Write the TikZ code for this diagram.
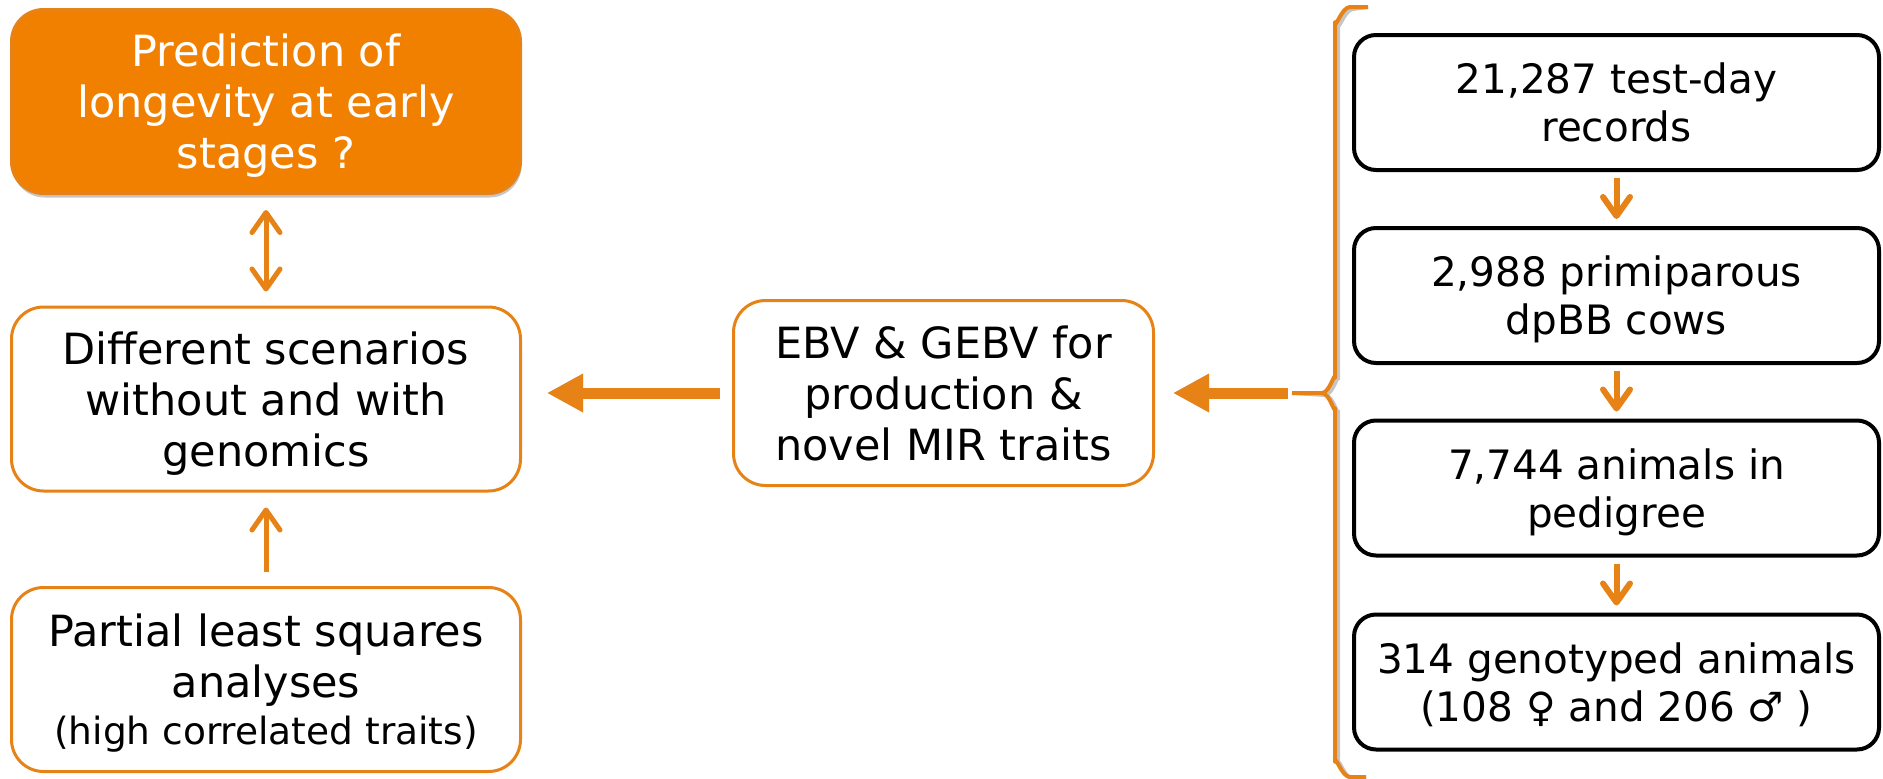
\documentclass[tikz,border=0pt]{standalone}
\usepackage{fontspec}
\setmainfont{DejaVu Sans}
\usetikzlibrary{arrows.meta,shadows}
\definecolor{ora}{RGB}{230,130,22}
\definecolor{orafill}{RGB}{242,128,0}
\definecolor{shad}{RGB}{140,140,140}
\begin{document}
\begin{tikzpicture}[x=1pt,y=-1pt,
  lbox/.style={draw=ora, line width=3pt, rounded corners=32pt, minimum width=509pt,
    minimum height=184pt, align=center, font=\fontsize{43}{51}\selectfont,
    text depth=0pt, inner sep=0pt},
  rbox/.style={draw=black, line width=4pt, rounded corners=22pt, minimum width=525pt,
    minimum height=135pt, align=center, font=\fontsize{40.5}{48}\selectfont,
    text depth=0pt, inner sep=0pt},
  barb/.tip={Straight Barb[length=20pt,width=28pt,line cap=round,line join=round]},
  thinarr/.style={draw=ora, line width=5pt, -barb},
  downarr/.style={draw=ora, line width=6pt, -{Straight Barb[length=19pt,width=27pt,line cap=round,line join=round]}},
  bigarr/.style={draw=ora, line width=11pt, -{Triangle[length=36pt,width=36pt]}},
  bigshadow/.style={draw=shad, opacity=0.45, line width=11pt, -{Triangle[length=36pt,width=36pt]}, xshift=3pt, yshift=-3pt},
  bracestyle/.style={draw=ora, line width=4pt, line join=round},
  braceshadow/.style={draw=shad, opacity=0.5, line width=4pt, xshift=3pt, yshift=-2pt}
]
\useasboundingbox (0,0) rectangle (1883,779);

% left column
\node[lbox, fill=orafill, text=white, drop shadow={shadow xshift=1pt, shadow yshift=-4pt, opacity=0.45}]
  (pred) at (266,101.5) {Prediction of\\longevity at early\\stages ?};
\node[lbox, fill=white] (scen) at (266,399) {Different scenarios\\without and with\\genomics};
\node[lbox, fill=white] (pls) at (266,679.5)
  {Partial least squares\\analyses\\[-4pt]{\fontsize{37.5}{44}\selectfont (high correlated traits)}};

% middle
\node[lbox, minimum width=420pt, minimum height=185pt, fill=white] (ebv) at (943.5,393)
  {EBV \& GEBV for\\production \&\\novel MIR traits};

% right column
\node[rbox] (r1) at (1616.5,102.5) {21,287 test-day\\records};
\node[rbox] (r2) at (1616.5,295.5) {2,988 primiparous\\dpBB cows};
\node[rbox] (r3) at (1616.5,488) {7,744 animals in\\pedigree};
\node[rbox] (r4) at (1616.5,682) {314 genotyped animals\\(108 ♀ and 206 ♂ )};

% brace
\coordinate (btop) at (1368,7);
\coordinate (bbot) at (1366,777);
\coordinate (bt) at (1292,393);
\path[braceshadow] (btop) -- (1350,7) to[out=180,in=-90] (1335,22) -- (1335,378)
  to[out=90,in=0] (1322,393) -- (bt) (1322,393) to[out=0,in=-90] (1335,408)
  -- (1335,762) to[out=90,in=180] (1350,777) -- (bbot);
\draw[bracestyle] (btop) -- (1350,7) to[out=180,in=-90] (1335,22) -- (1335,378)
  to[out=90,in=0] (1322,393) -- (bt) (1322,393) to[out=0,in=-90] (1335,408)
  -- (1335,762) to[out=90,in=180] (1350,777) -- (bbot);

% big arrows
\draw[bigshadow, shorten <=12pt, shorten >=25pt] (ebv.west) -- (ebv.west -| scen.east);
\draw[bigarr, shorten <=12pt, shorten >=25pt] (ebv.west) -- (ebv.west -| scen.east);
\draw[bigshadow, shorten <=4pt, shorten >=18pt] (bt) -- (ebv.east);
\draw[bigarr, shorten <=4pt, shorten >=18pt] (bt) -- (ebv.east);

% thin arrows left
\draw[thinarr, barb-barb, shorten <=15pt, shorten >=14pt] (pred.south) -- (scen.north);
\draw[thinarr, shorten <=14pt, shorten >=15pt] (pls.north) -- (scen.south);

% down arrows right
\draw[downarr, shorten <=6pt, shorten >=7pt] (r1.south) -- (r2.north);
\draw[downarr, shorten <=6pt, shorten >=7pt] (r2.south) -- (r3.north);
\draw[downarr, shorten <=6pt, shorten >=7pt] (r3.south) -- (r4.north);
\end{tikzpicture}
\end{document}
